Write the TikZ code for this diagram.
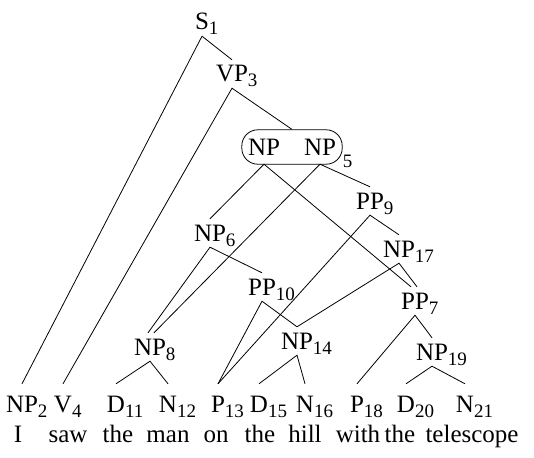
\documentclass[tikz,border=0pt]{standalone}
\usepackage{fontspec}
\setmainfont{Liberation Serif}
\usetikzlibrary{positioning,fit}
\newcommand{\nidx}[1]{\rlap{\raisebox{-5pt}{\fontsize{19}{22}\selectfont #1}}}
\tikzset{
  cat/.style={font=\fontsize{25}{30}\selectfont,inner xsep=1pt,inner ysep=6pt,
              text height=16pt,text depth=0pt},
  leaf/.style={cat,inner ysep=12pt},
  packed/.style={cat,inner xsep=6pt,inner ysep=9pt},
  word/.style={font=\fontsize{25}{30}\selectfont,anchor=base,inner sep=0pt},
  branch/.style={line width=0.8pt},
}

\begin{document}
\begin{tikzpicture}[x=1pt,y=-1pt]
  \useasboundingbox (0,0) rectangle (534,457);
  % inner categories
  \node[cat](s1) at (202,22) {S\nidx{1}};
  \node[cat](vp3) at (232,74) {VP\nidx{3}};
  \node[packed](npa) at (264,147) {NP};
  \node[packed](npb) at (320,147) {NP};
  \node[draw,rounded corners=16pt,inner sep=0pt,line width=0.8pt,fit=(npa)(npb)](np5){};
  \node[anchor=base west,inner sep=0pt,font=\fontsize{19}{22}\selectfont](np5idx)
    at ([yshift=-3pt]np5.south east) {5};
  \node[cat](np6) at (210,233) {NP\nidx{6}};
  \node[cat](pp9) at (370,201) {PP\nidx{9}};
  \node[cat](np17) at (399,249) {NP\nidx{17}};
  \node[cat](pp10) at (262,287) {PP\nidx{10}};
  \node[cat](pp7) at (415,301) {PP\nidx{7}};
  \node[cat](np8) at (150,347) {NP\nidx{8}};
  \node[cat](np14) at (297,341) {NP\nidx{14}};
  \node[cat](np19) at (432,352) {NP\nidx{19}};
  % preterminals
  \node[leaf](np2) at (22,404) {NP\nidx{2}};
  \node[leaf](v4) at (63,404) {V\nidx{4}};
  \node[leaf](d11) at (116,404) {D\nidx{11}};
  \node[leaf](n12) at (168,404) {N\nidx{12}};
  \node[leaf](p13) at (218,404) {P\nidx{13}};
  \node[leaf](d15) at (259,404) {D\nidx{15}};
  \node[leaf](n16) at (305,404) {N\nidx{16}};
  \node[leaf](p18) at (357,404) {P\nidx{18}};
  \node[leaf](d20) at (406,404) {D\nidx{20}};
  \node[leaf](n21) at (465,404) {N\nidx{21}};
  % sentence
  \node[word](w1) at (18,442) {I};
  \node[word](w2) at (68,442) {saw};
  \node[word](w3) at (118,442) {the};
  \node[word](w4) at (168,442) {man};
  \node[word](w5) at (216,442) {on};
  \node[word](w6) at (260,442) {the};
  \node[word](w7) at (305,442) {hill};
  \node[word](w8) at (358,442) {with};
  \node[word](w9) at (400,442) {the};
  \node[word](w10) at (472,442) {telescope};
  % branches
  \draw[branch] (np2.north) -- (s1.south) -- (vp3.north);
  \draw[branch] (v4.north) -- (vp3.south) -- (np5.north);
  \draw[branch] (np6.north) -- (npa.south) -- ([xshift=-4pt]pp7.north);
  \draw[branch] ([xshift=4pt]np8.north) -- (npb.south) -- (pp9.north);
  \draw[branch] ([xshift=-2pt]np8.north) -- (np6.south) -- (pp10.north);
  \draw[branch] (p13.north) -- (pp9.south) -- (np17.north);
  \draw[branch] (p13.north) -- (pp10.south) -- (np14.north);
  \draw[branch] (np14.north) -- (np17.south) -- ([xshift=2pt]pp7.north);
  \draw[branch] (p18.north) -- (pp7.south) -- (np19.north);
  \draw[branch] (d11.north) -- (np8.south) -- (n12.north);
  \draw[branch] (d15.north) -- (np14.south) -- (n16.north);
  \draw[branch] (d20.north) -- (np19.south) -- (n21.north);
\end{tikzpicture}
\end{document}
